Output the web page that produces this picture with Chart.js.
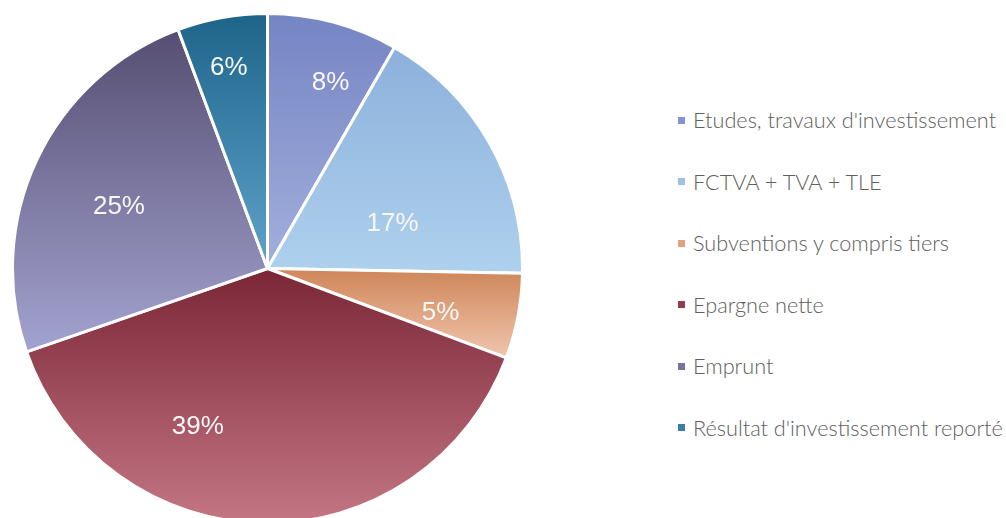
<!DOCTYPE html>
<html>
<head>
<meta charset="utf-8">
<script src="https://cdn.jsdelivr.net/npm/chart.js@4.4.0/dist/chart.umd.min.js"></script>
<style>
    html, body { margin: 0; padding: 0; background: #fff; width: 1006px; height: 518px; overflow: hidden; }
    #pieBox { position: absolute; left: 11px; top: 12px; width: 513px; height: 513px; }
    #legend { position: absolute; left: 678px; top: 0; margin: 0; padding: 0; list-style: none;
              font-family: Lato, "Open Sans", sans-serif; font-size: 21.7px; font-weight: 300; color: #606060; }
    #legend li { position: absolute; left: 0; height: 26px; display: flex; align-items: center; white-space: nowrap; }
    #legend .swatch { width: 7px; height: 7px; margin-right: 8px; }
</style>
</head>
<body>
<div id="pieBox"><canvas id="pieChart"></canvas></div>
<ul id="legend"></ul>
<script>
// Data
const categories = [
    'Etudes, travaux d\'investissement',
    'FCTVA + TVA + TLE',
    'Subventions y compris tiers',
    'Epargne nette',
    'Emprunt',
    'Résultat d\'investissement reporté'
];
const shares = [8.3, 17.0, 5.4, 39.0, 24.6, 5.7];

// Look of each slice: gradient top -> bottom
const sliceGradients = [
    ['#7584c4', '#a3afdc'],
    ['#8cb0db', '#aed1ee'],
    ['#cf8558', '#efc6ae'],
    ['#7a2636', '#c47684'],
    ['#564e72', '#a3a3d0'],
    ['#1e6489', '#5fa3cb']
];
const swatchColors = ['#8494cc', '#9cc0e6', '#e2a27e', '#933c4c', '#7a7298', '#3a7ea8'];

// Label placement: fraction of radius, angle shift (degrees) from slice middle
const labelRadius = [0.77, 0.52, 0.70, 0.68, 0.63, 0.80];
const labelShift = [3.8, 10, 3.5, 23, -2.8, -0.7];

const total = shares.reduce((a, b) => a + b, 0);

// Vertical gradient per slice, over the slice's own bounding box
const gradientFill = {
    id: 'gradientFill',
    beforeDatasetsDraw(chart) {
        const ctx = chart.ctx;
        const meta = chart.getDatasetMeta(0);
        meta.data.forEach((arc, i) => {
            const { x, y, startAngle, endAngle, outerRadius } = arc.getProps(['x', 'y', 'startAngle', 'endAngle', 'outerRadius'], true);
            let top = y, bottom = y;
            const ys = [y + outerRadius * Math.sin(startAngle), y + outerRadius * Math.sin(endAngle)];
            ys.forEach(v => { top = Math.min(top, v); bottom = Math.max(bottom, v); });
            const twoPi = Math.PI * 2;
            const within = a => {
                let s = ((startAngle % twoPi) + twoPi) % twoPi;
                let t = ((a - s) % twoPi + twoPi) % twoPi;
                return t <= endAngle - startAngle;
            };
            if (within(Math.PI / 2)) bottom = y + outerRadius;
            if (within(-Math.PI / 2)) top = y - outerRadius;
            const g = ctx.createLinearGradient(0, top, 0, bottom);
            g.addColorStop(0, sliceGradients[i][0]);
            g.addColorStop(1, sliceGradients[i][1]);
            arc.options.backgroundColor = g;
        });
    }
};

// Percent labels inside the slices
const percentLabels = {
    id: 'percentLabels',
    afterDatasetsDraw(chart) {
        const ctx = chart.ctx;
        const meta = chart.getDatasetMeta(0);
        ctx.save();
        ctx.font = '26px "Liberation Sans", Arial, sans-serif';
        ctx.fillStyle = '#f7f7f7';
        ctx.textAlign = 'center';
        ctx.textBaseline = 'middle';
        meta.data.forEach((arc, i) => {
            const { x, y, startAngle, endAngle, outerRadius } = arc.getProps(['x', 'y', 'startAngle', 'endAngle', 'outerRadius'], true);
            const mid = (startAngle + endAngle) / 2 + labelShift[i] * Math.PI / 180;
            const r = outerRadius * labelRadius[i];
            const pct = Math.round(shares[i] / total * 100) + '%';
            ctx.fillText(pct, x + r * Math.cos(mid), y + r * Math.sin(mid));
        });
        ctx.restore();
    }
};

const pieCtx = document.getElementById('pieChart').getContext('2d');
const pie = new Chart(pieCtx, {
    type: 'pie',
    data: {
        labels: categories,
        datasets: [{
            data: shares,
            backgroundColor: swatchColors,
            borderColor: '#ffffff',
            borderWidth: 3
        }]
    },
    options: {
        responsive: true,
        maintainAspectRatio: false,
        animation: false,
        layout: { padding: 0 },
        plugins: {
            legend: { display: false },
            tooltip: { enabled: false }
        }
    },
    plugins: [gradientFill, percentLabels]
});

// Legend on the right, built from the same arrays
const legendTops = [120, 181.5, 243, 304.5, 366, 427.5];
const legendEl = document.getElementById('legend');
categories.forEach((name, i) => {
    const li = document.createElement('li');
    li.style.top = (legendTops[i] - 13) + 'px';
    const sw = document.createElement('span');
    sw.className = 'swatch';
    sw.style.background = swatchColors[i];
    const txt = document.createElement('span');
    txt.textContent = name;
    li.appendChild(sw);
    li.appendChild(txt);
    legendEl.appendChild(li);
});
</script>
</body>
</html>
